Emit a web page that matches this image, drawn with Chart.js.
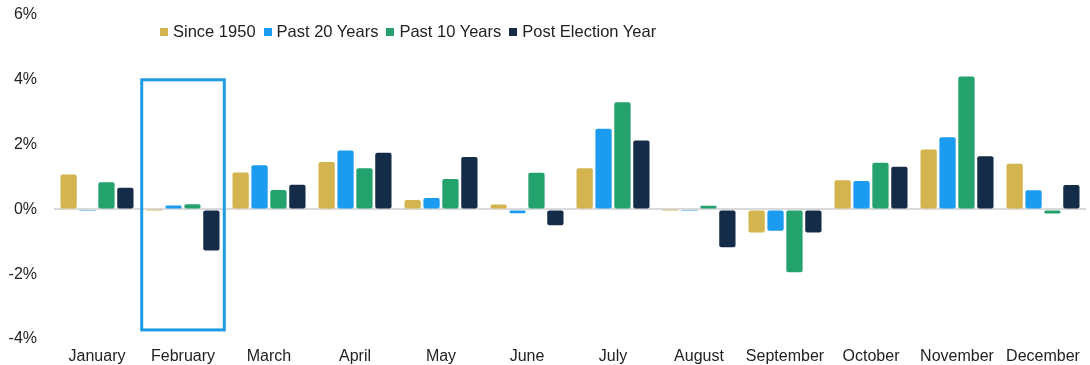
<!DOCTYPE html>
<html lang="en">
<head>
    <script src="https://cdn.jsdelivr.net/npm/chart.js"></script>
    <style>
        body { margin: 0; background: #fff; }
        #wrap { position: relative; width: 1090px; height: 365px; }
        #legend {
            position: absolute; left: 160px; top: 22px;
            font: 16.5px "Liberation Sans", Arial, sans-serif; color: #222;
            white-space: nowrap;
        }
        #legend span.item { margin-right: 8px; }
        #legend i {
            display: inline-block; width: 8px; height: 8px; margin-right: 5px;
            vertical-align: 1px;
        }
    </style>
</head>
<body>
<div id="wrap">
    <canvas id="monthlyChart" width="1090" height="365"></canvas>
    <div id="legend"></div>
</div>

<script>
    // data (monthly average return, %)
    const months = ["January", "February", "March", "April", "May", "June",
                    "July", "August", "September", "October", "November", "December"];
    const since1950   = [1.08, -0.01, 1.14, 1.46, 0.29, 0.15, 1.27, -0.01, -0.71, 0.90, 1.85, 1.41];
    const past20      = [-0.02, 0.12, 1.36, 1.82, 0.35, -0.12, 2.49, -0.02, -0.66, 0.88, 2.23, 0.59];
    const past10      = [0.84, 0.16, 0.60, 1.27, 0.94, 1.13, 3.31, 0.11, -1.94, 1.44, 4.10, -0.13];
    const postElection = [0.67, -1.27, 0.76, 1.75, 1.62, -0.49, 2.13, -1.17, -0.71, 1.32, 1.64, 0.75];
    const yTicks = [-4, -2, 0, 2, 4, 6];

    const seriesNames = ["Since 1950", "Past 20 Years", "Past 10 Years", "Post Election Year"];
    const seriesColors = ["#D4B44E", "#1B9CF0", "#23A26E", "#152C48"];

    // highlighted month box (in data units)
    const highlightMonth = 1;
    const highlightTop = 4;
    const highlightBottom = -3.72;

    const legendEl = document.getElementById("legend");
    legendEl.innerHTML = seriesNames.map((n, i) =>
        `<span class="item"><i style="background:${seriesColors[i]}"></i>${n}</span>`).join("");

    const highlightBox = {
        id: "highlightBox",
        afterDatasetsDraw(chart) {
            const x = chart.scales.x, y = chart.scales.y;
            const half = (x.getPixelForValue(1) - x.getPixelForValue(0)) * 0.48;
            const cx = x.getPixelForValue(highlightMonth);
            const c = chart.ctx;
            c.save();
            c.strokeStyle = "#1E9BE2";
            c.lineWidth = 3;
            c.strokeRect(cx - half, y.getPixelForValue(highlightTop),
                         half * 2, y.getPixelForValue(highlightBottom) - y.getPixelForValue(highlightTop));
            c.restore();
        }
    };

    const allSeries = [since1950, past20, past10, postElection];

    new Chart(document.getElementById("monthlyChart"), {
        type: "bar",
        data: {
            labels: months,
            datasets: allSeries.map((d, i) => ({
                label: seriesNames[i],
                data: d,
                backgroundColor: seriesColors[i],
                borderWidth: 0,
                borderRadius: 2,
                borderSkipped: false,
                categoryPercentage: 0.88,
                barPercentage: 0.86
            }))
        },
        options: {
            responsive: false,
            animation: false,
            layout: { padding: { top: 15, right: 4, left: 0, bottom: 0 } },
            plugins: {
                legend: { display: false },
                tooltip: { enabled: false }
            },
            scales: {
                x: {
                    grid: { display: false, drawTicks: false },
                    border: { display: false },
                    ticks: {
                        color: "#222",
                        padding: 8,
                        maxRotation: 0,
                        autoSkip: false,
                        font: { family: "'Liberation Sans', Arial, sans-serif", size: 16 }
                    },
                    afterFit(s) { s.height = 26; }
                },
                y: {
                    min: -4,
                    max: 6,
                    afterBuildTicks(s) { s.ticks = yTicks.map(v => ({ value: v })); },
                    grid: {
                        drawTicks: false,
                        lineWidth: ctx => ctx.tick && ctx.tick.value === 0 ? 2 : 0,
                        color: "#DADADA"
                    },
                    border: { display: false },
                    ticks: {
                        color: "#222",
                        padding: 17,
                        font: { family: "'Liberation Sans', Arial, sans-serif", size: 16 },
                        callback: v => v + "%"
                    },
                    afterFit(s) { s.width = 54; s.paddingTop = 0; s.paddingBottom = 0; }
                }
            }
        },
        plugins: [highlightBox]
    });
</script>
</body>
</html>
